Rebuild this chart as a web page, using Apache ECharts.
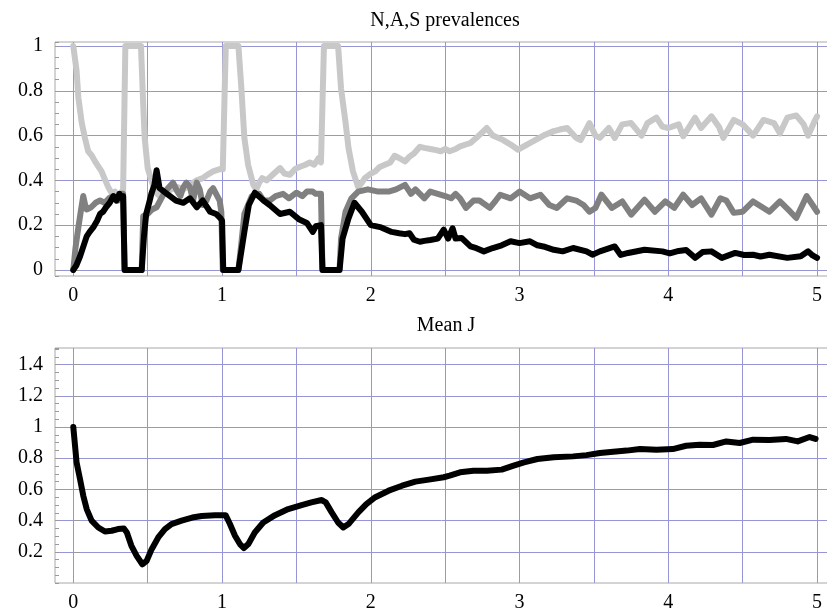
<!DOCTYPE html>
<html>
<head>
<meta charset="utf-8">
<script src="https://cdn.jsdelivr.net/npm/echarts@6/dist/echarts.min.js"></script>
<style>html,body{margin:0;padding:0;background:#fff}#c{width:827px;height:616px}</style>
</head>
<body>
<div id="c"></div>
<script>
// ---- Data ----
const titleTop = 'N,A,S prevalences';
const titleBottom = 'Mean J';

// S (light grey)
const sT = [0,0.022,0.034,0.056,0.078,0.10,0.125,0.146,0.17,0.19,0.215,0.235,0.26,0.28,0.30,0.32,0.335,0.35,0.455,0.47,0.48,0.50,0.525,0.55,0.58,0.62,0.66,0.70,0.74,0.784,0.83,0.87,0.90,0.94,0.985,1.005,1.025,1.11,1.13,1.15,1.175,1.21,1.23,1.25,1.27,1.30,1.34,1.39,1.42,1.456,1.49,1.52,1.56,1.59,1.62,1.65,1.665,1.685,1.78,1.80,1.83,1.85,1.88,1.915,1.94,1.96,2.0,2.03,2.06,2.095,2.13,2.16,2.19,2.23,2.26,2.29,2.33,2.36,2.40,2.44,2.47,2.50,2.53,2.57,2.60,2.67,2.71,2.78,2.82,2.89,2.94,2.99,3.05,3.09,3.16,3.23,3.27,3.32,3.38,3.41,3.47,3.51,3.54,3.60,3.64,3.69,3.75,3.82,3.86,3.92,3.96,4.0,4.07,4.10,4.18,4.22,4.29,4.34,4.37,4.44,4.50,4.57,4.64,4.71,4.75,4.80,4.86,4.91,4.94,4.98,5.0];
const sV = [1.0,0.89,0.77,0.66,0.59,0.53,0.51,0.485,0.46,0.44,0.40,0.37,0.34,0.35,0.33,0.34,0.36,1.0,1.0,0.74,0.59,0.455,0.40,0.35,0.33,0.35,0.36,0.37,0.36,0.38,0.40,0.41,0.425,0.44,0.45,0.45,1.0,1.0,0.81,0.59,0.47,0.38,0.36,0.39,0.41,0.40,0.425,0.455,0.43,0.425,0.45,0.46,0.47,0.48,0.47,0.50,0.48,1.0,1.0,0.81,0.66,0.545,0.44,0.37,0.39,0.41,0.43,0.44,0.46,0.47,0.48,0.51,0.50,0.485,0.506,0.52,0.55,0.545,0.54,0.535,0.53,0.54,0.53,0.54,0.552,0.567,0.59,0.634,0.60,0.58,0.56,0.537,0.56,0.574,0.60,0.62,0.627,0.634,0.59,0.58,0.656,0.60,0.59,0.634,0.59,0.65,0.656,0.60,0.656,0.68,0.64,0.634,0.65,0.597,0.68,0.634,0.686,0.64,0.59,0.67,0.65,0.60,0.67,0.656,0.61,0.68,0.69,0.65,0.60,0.66,0.686];

// A (mid grey)
const aT = [0,0.015,0.034,0.05,0.067,0.08,0.09,0.12,0.15,0.18,0.21,0.24,0.27,0.30,0.32,0.335,0.345,0.46,0.47,0.50,0.53,0.56,0.60,0.63,0.67,0.70,0.72,0.74,0.76,0.784,0.805,0.83,0.85,0.87,0.895,0.92,0.94,0.96,0.984,0.995,1.005,1.11,1.13,1.15,1.2,1.25,1.28,1.32,1.36,1.41,1.45,1.5,1.54,1.57,1.61,1.63,1.665,1.675,1.79,1.80,1.83,1.87,1.915,1.98,2.05,2.12,2.17,2.23,2.27,2.30,2.36,2.40,2.45,2.50,2.54,2.57,2.60,2.64,2.69,2.73,2.80,2.84,2.87,2.94,3.0,3.07,3.14,3.2,3.25,3.32,3.38,3.43,3.47,3.51,3.55,3.62,3.69,3.75,3.84,3.91,3.98,4.04,4.10,4.16,4.22,4.29,4.35,4.39,4.44,4.50,4.57,4.64,4.68,4.75,4.82,4.86,4.93,4.98,5.0];
const aV = [0,0.10,0.19,0.26,0.33,0.29,0.27,0.28,0.30,0.31,0.30,0.32,0.33,0.31,0.34,0.34,0,0,0.24,0.25,0.27,0.28,0.33,0.36,0.39,0.35,0.33,0.37,0.39,0.37,0.31,0.39,0.36,0.29,0.31,0.35,0.365,0.34,0.31,0.26,0,0,0.12,0.25,0.33,0.34,0.31,0.31,0.33,0.34,0.32,0.345,0.33,0.35,0.35,0.34,0.34,0,0,0.14,0.26,0.32,0.35,0.36,0.35,0.35,0.36,0.38,0.34,0.36,0.32,0.35,0.34,0.33,0.32,0.34,0.32,0.277,0.31,0.31,0.277,0.31,0.336,0.32,0.35,0.32,0.336,0.29,0.277,0.32,0.31,0.29,0.26,0.277,0.336,0.277,0.306,0.247,0.314,0.26,0.306,0.277,0.336,0.29,0.32,0.247,0.32,0.31,0.255,0.26,0.306,0.277,0.26,0.306,0.26,0.232,0.33,0.28,0.26];

// N (black)
const nT = [0,0.02,0.045,0.07,0.09,0.11,0.134,0.16,0.18,0.20,0.22,0.245,0.27,0.29,0.31,0.325,0.335,0.345,0.46,0.475,0.49,0.51,0.525,0.545,0.56,0.58,0.61,0.65,0.69,0.74,0.784,0.83,0.87,0.92,0.96,0.99,1.0,1.008,1.11,1.15,1.18,1.22,1.28,1.32,1.39,1.456,1.52,1.57,1.61,1.63,1.665,1.675,1.79,1.81,1.85,1.89,1.94,2.0,2.07,2.14,2.19,2.23,2.26,2.29,2.33,2.36,2.40,2.45,2.49,2.52,2.55,2.57,2.61,2.67,2.71,2.76,2.82,2.88,2.94,3.0,3.07,3.12,3.16,3.23,3.29,3.36,3.45,3.49,3.54,3.64,3.68,3.73,3.84,3.96,4.01,4.07,4.12,4.18,4.23,4.29,4.36,4.45,4.51,4.57,4.62,4.68,4.80,4.89,4.94,4.97,5.0];
const nV = [0,0.02,0.06,0.11,0.15,0.17,0.19,0.22,0.25,0.26,0.28,0.30,0.33,0.31,0.34,0.32,0.33,0,0,0.15,0.25,0.30,0.34,0.38,0.445,0.365,0.35,0.33,0.31,0.30,0.32,0.28,0.31,0.26,0.25,0.23,0.22,0,0,0.17,0.29,0.345,0.31,0.29,0.25,0.26,0.225,0.21,0.17,0.195,0.20,0,0,0.14,0.23,0.30,0.26,0.20,0.19,0.17,0.164,0.16,0.164,0.135,0.126,0.13,0.134,0.14,0.18,0.14,0.186,0.14,0.143,0.105,0.097,0.083,0.098,0.11,0.128,0.12,0.128,0.11,0.105,0.09,0.083,0.098,0.083,0.068,0.083,0.105,0.067,0.076,0.09,0.083,0.074,0.085,0.089,0.054,0.08,0.083,0.054,0.076,0.067,0.068,0.06,0.068,0.054,0.061,0.083,0.065,0.054];

// Mean J (black, lower panel)
const jT = [0,0.022,0.045,0.067,0.09,0.123,0.168,0.213,0.258,0.30,0.34,0.36,0.39,0.426,0.464,0.493,0.527,0.571,0.616,0.66,0.728,0.80,0.863,0.953,1.024,1.053,1.087,1.12,1.147,1.177,1.22,1.277,1.356,1.445,1.535,1.60,1.67,1.697,1.737,1.78,1.815,1.85,1.916,1.97,2.03,2.12,2.21,2.30,2.39,2.49,2.53,2.60,2.69,2.78,2.88,2.96,3.03,3.12,3.23,3.36,3.45,3.54,3.63,3.72,3.81,3.92,4.03,4.12,4.21,4.30,4.39,4.48,4.57,4.68,4.79,4.87,4.95,4.99];
const jV = [1.0,0.774,0.667,0.56,0.474,0.40,0.356,0.33,0.335,0.346,0.35,0.324,0.24,0.174,0.12,0.142,0.217,0.292,0.346,0.378,0.40,0.42,0.43,0.435,0.435,0.378,0.303,0.25,0.224,0.25,0.324,0.388,0.435,0.474,0.50,0.517,0.532,0.517,0.453,0.388,0.356,0.378,0.453,0.506,0.55,0.592,0.624,0.65,0.663,0.678,0.688,0.71,0.72,0.72,0.727,0.753,0.774,0.795,0.806,0.812,0.82,0.834,0.842,0.849,0.859,0.855,0.859,0.88,0.887,0.885,0.908,0.898,0.919,0.917,0.924,0.908,0.936,0.924];

const pairs = (t, v) => t.map((x, i) => [x, v[i]]);

// ---- Style ----
const FONT = 'Liberation Serif';
const GRIDLINE = 'rgb(150,150,215)';
const FRAME = '#a8a8a8';
const TICK = '#9a9a9a';

const chart = echarts.init(document.getElementById('c'), null, {renderer: 'canvas'});

function xAxis(gridIndex) {
  return {
    type: 'value', gridIndex, min: -0.123, max: 5.134, splitNumber: 10,
    axisLine: {show: false}, axisTick: {show: false},
    axisLabel: {
      show: true, margin: 10, color: '#000', fontFamily: FONT, fontSize: 20,
      showMinLabel: false, showMaxLabel: false,
      formatter: v => Math.abs(v - Math.round(v)) < 1e-6 ? String(Math.round(v)) : ''
    },
    splitLine: {show: true, showMinLine: false, showMaxLine: false, lineStyle: {color: GRIDLINE, width: 1}}
  };
}
function yMain(gridIndex, min, max, splitNumber) {
  return {
    type: 'value', gridIndex, min, max, splitNumber, position: 'left',
    axisLine: {show: false},
    axisTick: {show: true, inside: true, length: 7, lineStyle: {color: TICK}},
    axisLabel: {
      show: true, margin: 12, color: '#000', fontFamily: FONT, fontSize: 20,
      showMinLabel: false, showMaxLabel: false,
      formatter: v => String(Math.round(v * 100) / 100)
    },
    splitLine: {show: true, showMinLine: false, showMaxLine: false, lineStyle: {color: GRIDLINE, width: 1}}
  };
}
function yMinor(gridIndex, min, max, splitNumber) {
  return {
    type: 'value', gridIndex, min, max, splitNumber, position: 'left',
    axisLine: {show: false},
    axisTick: {show: true, inside: true, length: 4, lineStyle: {color: TICK}},
    axisLabel: {show: false},
    splitLine: {show: false}
  };
}
function lineSeries(data, color, xi, yi, z) {
  return {
    type: 'line', data, xAxisIndex: xi, yAxisIndex: yi, showSymbol: false, symbol: 'none',
    z, lineStyle: {color, width: 6, join: 'round', cap: 'round'}, smooth: false, silent: true
  };
}

chart.setOption({
  animation: false,
  backgroundColor: '#fff',
  grid: [
    {left: 55, top: 42, right: -10, height: 234, show: true, borderColor: FRAME, borderWidth: 1, containLabel: false, outerBoundsMode: 'none'},
    {left: 55, top: 348, right: -10, height: 235, show: true, borderColor: FRAME, borderWidth: 1, containLabel: false, outerBoundsMode: 'none'}
  ],
  xAxis: [xAxis(0), xAxis(1)],
  yAxis: [
    yMain(0, -0.027, 1.018, 5),
    yMinor(0, -0.027, 1.018, 21),
    yMain(1, 0, 1.507, 7),
    yMinor(1, 0, 1.507, 30)
  ],
  graphic: [
    {type: 'text', x: 445, y: 21, style: {text: titleTop, fontFamily: FONT, fontSize: 20, fill: '#000', textAlign: 'center', textVerticalAlign: 'middle'}},
    {type: 'text', x: 446, y: 325.5, style: {text: titleBottom, fontFamily: FONT, fontSize: 20, fill: '#000', textAlign: 'center', textVerticalAlign: 'middle'}}
  ],
  series: [
    lineSeries(pairs(sT, sV), '#c8c8c8', 0, 0, 2),
    lineSeries(pairs(aT, aV), '#808080', 0, 0, 3),
    lineSeries(pairs(nT, nV), '#000000', 0, 0, 4),
    lineSeries(pairs(jT, jV), '#000000', 1, 2, 4)
  ]
});
</script>
</body>
</html>
